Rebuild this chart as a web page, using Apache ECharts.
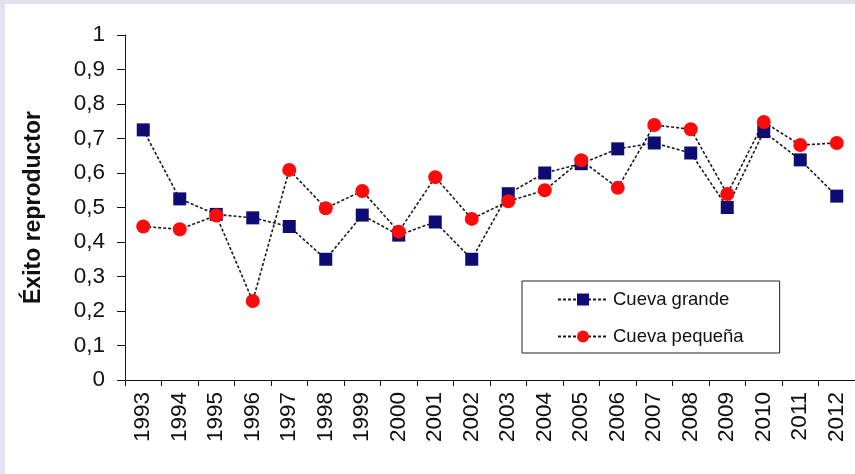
<!DOCTYPE html>
<html>
<head>
<meta charset="utf-8">
<script src="https://cdn.jsdelivr.net/npm/echarts@6/dist/echarts.min.js"></script>
<style>
  html, body { margin: 0; padding: 0; width: 855px; height: 474px; background: #e4e1ee; overflow: hidden; }
  #paper { position: absolute; left: 5px; top: 4px; right: 0; bottom: 0; background: #ffffff; }
  #chart { position: absolute; left: 0; top: 0; width: 855px; height: 474px; }
</style>
</head>
<body>
<div id="paper"></div>
<div id="chart"></div>
<script>
const years = ['1993','1994','1995','1996','1997','1998','1999','2000','2001','2002','2003','2004','2005','2006','2007','2008','2009','2010','2011','2012'];
const cuevaGrande  = [0.725, 0.525, 0.48, 0.47, 0.445, 0.35, 0.478, 0.42, 0.458, 0.35, 0.54, 0.60, 0.627, 0.67, 0.687, 0.658, 0.50, 0.72, 0.638, 0.533];
const cuevaPequena = [0.445, 0.437, 0.477, 0.229, 0.609, 0.498, 0.548, 0.43, 0.588, 0.467, 0.518, 0.55, 0.637, 0.557, 0.739, 0.727, 0.539, 0.748, 0.681, 0.687];
const seriesNames = ['Cueva grande', 'Cueva pequeña'];
const yAxisName = 'Éxito reproductor';

const chart = echarts.init(document.getElementById('chart'), null, { renderer: 'canvas' });
const font = 'Liberation Sans, Arial, sans-serif';
const option = {
  animation: false,
  backgroundColor: 'transparent',
  textStyle: { fontFamily: font },
  grid: { left: 125, top: 35, bottom: 94, right: -4, containLabel: false },
  legend: {
    orient: 'vertical',
    left: 522, top: 281,
    padding: [8, 36, 6, 35],
    itemGap: 16,
    itemWidth: 50, itemHeight: 15,
    borderColor: '#222', borderWidth: 1,
    backgroundColor: '#ffffff',
    textStyle: { fontFamily: font, fontSize: 18.5, color: '#111', lineHeight: 21 },
    data: seriesNames
  },
  xAxis: {
    type: 'category',
    data: years,
    boundaryGap: true,
    axisLine: { lineStyle: { color: '#111', width: 1 } },
    axisTick: { show: true, alignWithLabel: false, length: 6, lineStyle: { color: '#111' } },
    axisLabel: { rotate: 90, fontSize: 22.5, color: '#111', margin: 12, fontFamily: font, interval: 0 },
    splitLine: { show: false }
  },
  yAxis: {
    type: 'value',
    min: 0, max: 1, interval: 0.1,
    name: yAxisName,
    nameLocation: 'middle',
    nameGap: 80,
    nameTextStyle: { fontSize: 23, fontWeight: 'bold', color: '#111', fontFamily: font },
    axisLine: { show: true, lineStyle: { color: '#111', width: 1 } },
    axisTick: { show: true, length: 8, lineStyle: { color: '#111' } },
    axisLabel: {
      fontSize: 22.5, color: '#111', margin: 20, fontFamily: font,
      formatter: v => (v === 0 ? '0' : v === 1 ? '1' : v.toFixed(1).replace('.', ','))
    },
    splitLine: { show: false }
  },
  series: [
    {
      name: seriesNames[0], type: 'line', data: cuevaGrande,
      symbol: 'rect', symbolSize: 13,
      itemStyle: { color: '#0c0c72' },
      lineStyle: { color: '#1a1a1a', width: 1.6, type: [3, 2] },
      z: 2
    },
    {
      name: seriesNames[1], type: 'line', data: cuevaPequena,
      symbol: 'circle', symbolSize: 14,
      itemStyle: { color: '#ff0a0a' },
      lineStyle: { color: '#1a1a1a', width: 1.6, type: [3, 2] },
      z: 3
    }
  ]
};
chart.setOption(option);
</script>
</body>
</html>
